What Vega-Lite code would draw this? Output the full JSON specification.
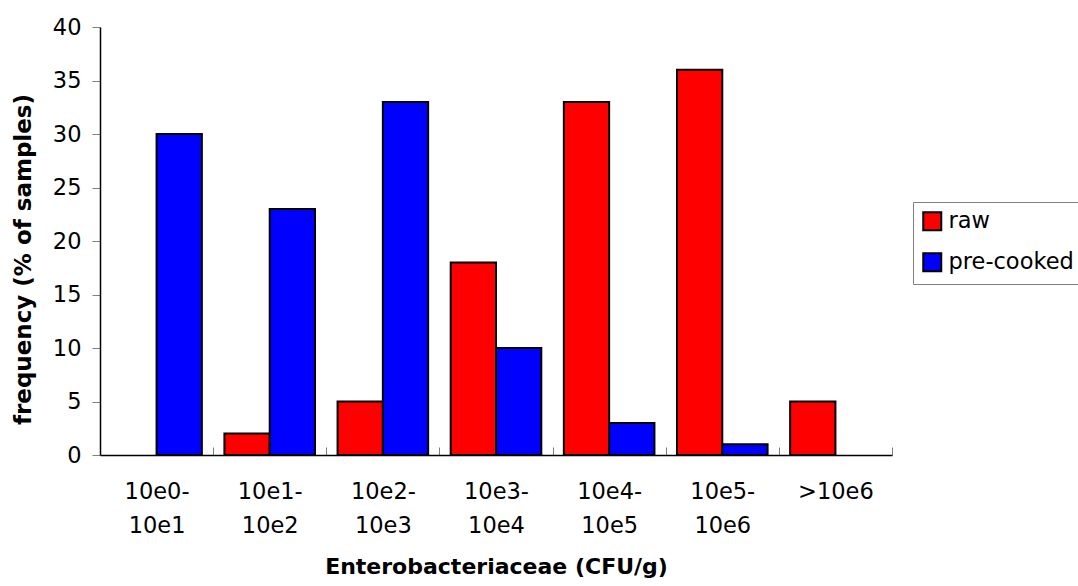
{
  "$schema": "https://vega.github.io/schema/vega-lite/v6.json",
  "width": 792,
  "height": 428,
  "autosize": "none",
  "padding": {"left": 100, "top": 27, "right": 186, "bottom": 131},
  "background": "white",
  "config": {
    "view": {"stroke": null},
    "font": "DejaVu Sans"
  },
  "data": {
    "values": [
      {"range": "10e0-10e1", "type": "pre-cooked", "freq": 30},
      {"range": "10e1-10e2", "type": "raw", "freq": 2},
      {"range": "10e1-10e2", "type": "pre-cooked", "freq": 23},
      {"range": "10e2-10e3", "type": "raw", "freq": 5},
      {"range": "10e2-10e3", "type": "pre-cooked", "freq": 33},
      {"range": "10e3-10e4", "type": "raw", "freq": 18},
      {"range": "10e3-10e4", "type": "pre-cooked", "freq": 10},
      {"range": "10e4-10e5", "type": "raw", "freq": 33},
      {"range": "10e4-10e5", "type": "pre-cooked", "freq": 3},
      {"range": "10e5-10e6", "type": "raw", "freq": 36},
      {"range": "10e5-10e6", "type": "pre-cooked", "freq": 1},
      {"range": ">10e6", "type": "raw", "freq": 5}
    ]
  },
  "mark": {"type": "bar", "stroke": "black", "strokeWidth": 2},
  "encoding": {
    "x": {
      "field": "range",
      "type": "nominal",
      "sort": ["10e0-10e1", "10e1-10e2", "10e2-10e3", "10e3-10e4", "10e4-10e5", "10e5-10e6", ">10e6"],
      "scale": {"paddingInner": 0, "paddingOuter": 0},
      "axis": {
        "title": "Enterobacteriaceae (CFU/g)",
        "titleFontSize": 22,
        "titleFontWeight": "bold",
        "titleColor": "black",
        "titlePadding": 20,
        "labelAngle": 0,
        "labelFontSize": 22.5,
        "labelColor": "black",
        "labelLineHeight": 34,
        "labelPadding": 33,
        "labelExpr": "indexof(datum.label, '-') > 0 ? [slice(datum.label, 0, indexof(datum.label, '-') + 1), slice(datum.label, indexof(datum.label, '-') + 1)] : datum.label",
        "tickBand": "extent",
        "tickSize": -8,
        "tickColor": "#808080",
        "domainColor": "black",
        "domainWidth": 1.5
      }
    },
    "xOffset": {
      "field": "type",
      "type": "nominal",
      "sort": ["raw", "pre-cooked"],
      "scale": {"domain": ["raw", "pre-cooked"], "paddingInner": 0, "paddingOuter": 0.249}
    },
    "y": {
      "field": "freq",
      "type": "quantitative",
      "scale": {"domain": [0, 40]},
      "axis": {
        "title": "frequency (% of samples)",
        "titleFontSize": 23,
        "titleFontWeight": "bold",
        "titleColor": "black",
        "titleX": -65,
        "titleY": 232,
        "values": [0, 5, 10, 15, 20, 25, 30, 35, 40],
        "grid": false,
        "labelFontSize": 22.5,
        "labelColor": "black",
        "labelPadding": 11,
        "tickSize": 8,
        "tickColor": "#808080",
        "domainColor": "black",
        "domainWidth": 1.5
      }
    },
    "color": {
      "field": "type",
      "type": "nominal",
      "scale": {"domain": ["raw", "pre-cooked"], "range": ["#FF0000", "#0000FF"]},
      "legend": {
        "title": null,
        "orient": "none",
        "legendX": 813,
        "legendY": 175,
        "symbolType": "square",
        "symbolSize": 324,
        "symbolStrokeColor": "black",
        "symbolStrokeWidth": 2,
        "symbolOpacity": 1,
        "labelFontSize": 22.5,
        "labelColor": "black",
        "labelOffset": 5,
        "rowPadding": 14,
        "strokeColor": "#808080",
        "padding": 8,
        "fillColor": "white"
      }
    }
  }
}
